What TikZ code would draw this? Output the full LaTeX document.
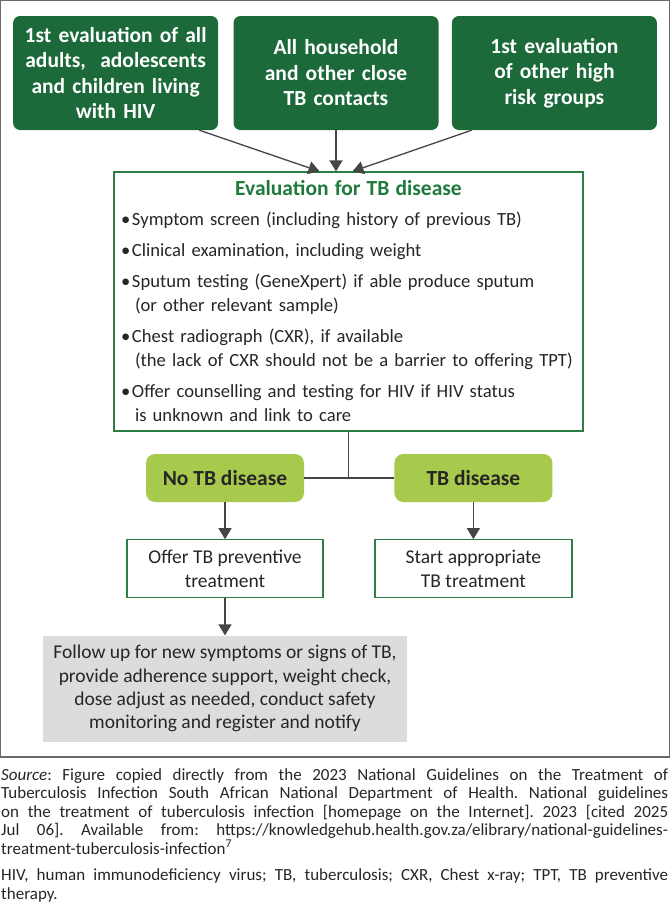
\documentclass[tikz,border=0pt]{standalone}
\usepackage{fontspec}
\setmainfont{Carlito}
\usepackage{tikz}
\usetikzlibrary{arrows.meta,positioning,calc}
\definecolor{topc}{HTML}{1C6A3A}
\definecolor{titlec}{HTML}{1F7A3C}
\definecolor{pillc}{HTML}{A8CA4C}
\definecolor{edgec}{HTML}{2E7D46}
\definecolor{greyc}{HTML}{DCDCDC}
\definecolor{arrc}{HTML}{454545}
\definecolor{framec}{HTML}{6A6A6A}
\newcommand{\fsbig}{\fontsize{21.5}{25.5}\selectfont}
\newcommand{\fsmid}{\fontsize{19.5}{23.5}\selectfont}
\newcommand{\fsevl}{\fontsize{18.6}{24}\selectfont}
\newcommand{\fscap}{\fontsize{17}{18.5}\selectfont}
\newcommand{\bitem}[1]{\hspace*{-2pt}\makebox[11pt][l]{\textbullet}\mbox{#1}}
\newcommand{\bcont}[1]{\hspace*{12pt}\mbox{#1}}
\tikzset{
  topbox/.style={fill=topc, rounded corners=7pt, text=white, font=\bfseries\fsbig, align=center,
    minimum width=205pt, minimum height=114pt, text width=200pt, inner sep=0pt},
  pill/.style={fill=pillc, rounded corners=9pt, text=black!85, font=\bfseries\fontsize{21.5}{26}\selectfont,
    minimum width=158pt, minimum height=48pt, inner sep=0pt},
  outbox/.style={draw=edgec, line width=1.2pt, fill=white, font=\fsmid, align=center, text=black!85,
    minimum width=196pt, minimum height=58pt, inner sep=0pt},
  arr/.style={-{Triangle[length=11pt,width=13pt]}, line width=1.3pt, draw=arrc},
  ln/.style={line width=1.3pt, draw=arrc},
}
\begin{document}
\begin{tikzpicture}[x=1pt, y=-1pt]
  \useasboundingbox (0,0) rectangle (670,908);
  \draw[framec, line width=1.2pt] (0.6,0.6) rectangle (669.4,757);
  % entry groups
  \node[topbox] (hh) at (336,73) {All household\\and other close\\TB contacts};
  \node[topbox, left=15pt of hh] (hiv) {1st evaluation of all\\adults,~ adolescents\\and children living\\with HIV};
  \node[topbox, right=13pt of hh] (hrg) {1st evaluation\\of other high\\risk groups};
  % evaluation
  \node[draw=edgec, line width=1.2pt, minimum width=469pt, minimum height=259pt, text width=451pt,
    inner xsep=9pt, align=left, font=\fsevl, text=black!85] (eval) at (348.5,301.5) {%
    {\centering\bfseries\fontsize{21.5}{24}\selectfont\textcolor{titlec}{Evaluation for TB disease}\par}
    \vspace{6pt}
    \bitem{Symptom screen (including history of previous TB)}\\[7pt]
    \bitem{Clinical examination, including weight}\\[7pt]
    \bitem{Sputum testing (GeneXpert) if able produce sputum}\\
    \bcont{(or other relevant sample)}\\[7pt]
    \bitem{Chest radiograph (CXR), if available}\\
    \bcont{(the lack of CXR should not be a barrier to offering TPT)}\\[7pt]
    \bitem{Offer counselling and testing for HIV if HIV status}\\
    \bcont{is unknown and link to care}};
  \draw[arr] ([xshift=-19pt]hiv.south east) -- ([xshift=-29pt]eval.north);
  \draw[arr] (hh.south) -- (hh.south |- eval.north);
  \draw[arr] ([xshift=20pt]hrg.south west) -- ([xshift=4pt]eval.north);
  % outcome
  \node[pill] (nodis) at (225,478) {No TB disease};
  \node[pill, right=90pt of nodis] (dis) {TB disease};
  \coordinate (jn) at (eval.south |- nodis.east);
  \draw[ln] (eval.south) -- (jn);
  \draw[ln] (nodis.east) -- (dis.west);
  \node[outbox, below=37pt of nodis] (tpt) {Offer TB preventive\\treatment};
  \node[outbox, below=37pt of dis, minimum width=197pt] (trt) {Start appropriate\\TB treatment};
  \draw[arr] (nodis) -- (tpt);
  \draw[arr] (dis) -- (trt);
  \node[fill=greyc, minimum width=364pt, minimum height=106pt, inner sep=0pt, align=center,
    font=\fontsize{19.5}{23.3}\selectfont, text=black!85, below=37pt of tpt] (follow)
    {Follow up for new symptoms or signs of TB,\\
     provide adherence support, weight check,\\
     dose adjust as needed, conduct safety\\
     monitoring and register and notify};
  \draw[arr] (tpt) -- (follow);
  % caption
  \node[anchor=north west, text width=667pt, inner sep=0pt, align=justify, font=\fscap, text=black!85] (cap) at (1,768) {%
    \frenchspacing\emergencystretch=2em
    \textit{Source}: Figure copied directly from the 2023 National Guidelines on the Treatment of\linebreak
    Tuberculosis Infection South African National Department of Health. National guidelines\linebreak
    on the treatment of tuberculosis infection [homepage on the Internet]. 2023 [cited 2025\linebreak
    Jul 06]. Available from: https://knowledgehub.health.gov.za/elibrary/national-guidelines-\linebreak
    treatment-tuberculosis-infection\textsuperscript{7}\par\vspace{8pt}
    HIV, human immunodeficiency virus; TB, tuberculosis; CXR, Chest x-ray; TPT, TB preventive\linebreak
    therapy.};
\end{tikzpicture}
\end{document}
